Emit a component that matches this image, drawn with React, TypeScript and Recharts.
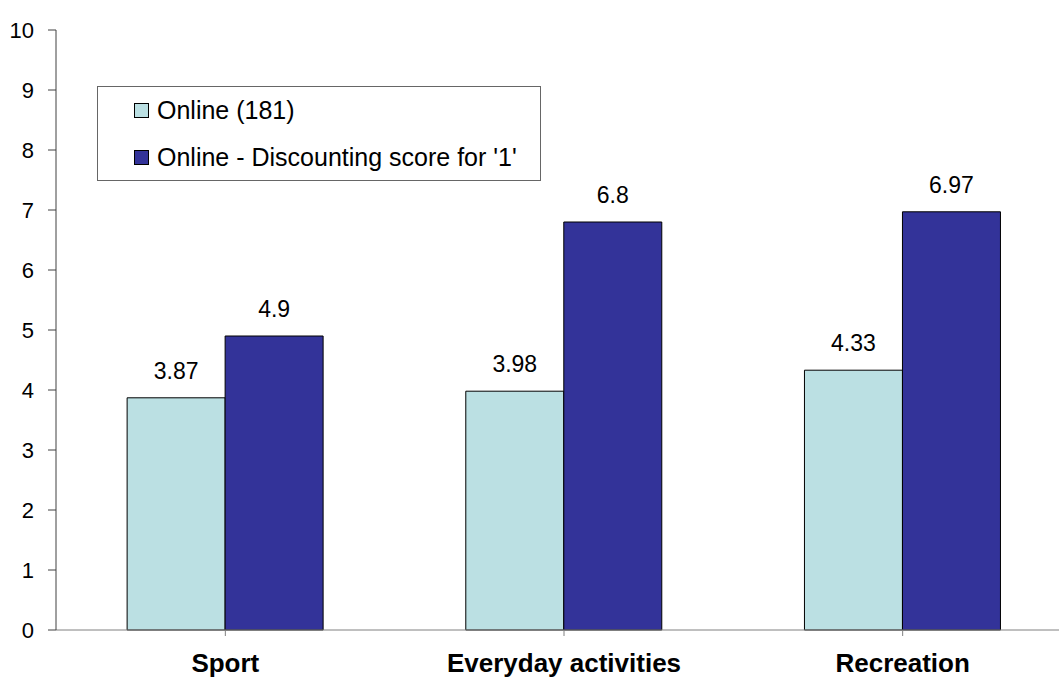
import React from "react";
import { BarChart, Bar, XAxis, YAxis, Legend, LabelList } from "recharts";

const categories = ["Sport", "Everyday activities", "Recreation"];
const onlineValues = [3.87, 3.98, 4.33];
const discountValues = [4.9, 6.8, 6.97];
const yTicks = [0, 1, 2, 3, 4, 5, 6, 7, 8, 9, 10];
const seriesNames = ["Online (181)", "Online - Discounting score for '1'"];
const seriesColors = ["#BBE0E3", "#333399"];

const data = categories.map((c, i) => ({
  name: c,
  online: onlineValues[i],
  discount: discountValues[i],
}));

const font = "Arial, 'Liberation Sans', Helvetica, sans-serif";

const LegendBox = () => (
  <div
    style={{
      border: "1px solid #666",
      background: "#fff",
      width: 444,
      height: 95,
      boxSizing: "border-box",
      padding: "0 0 0 36px",
      fontFamily: font,
      fontSize: 25,
      color: "#000",
    }}
  >
    {seriesNames.map((n, i) => (
      <div key={n} style={{ display: "flex", alignItems: "center", height: 47, lineHeight: "47px" }}>
        <span
          style={{
            display: "inline-block",
            width: 13,
            height: 13,
            background: seriesColors[i],
            border: "1px solid #000",
            marginRight: 8,
          }}
        />
        <span>{n}</span>
      </div>
    ))}
  </div>
);

export default function App() {
  return (
    <div style={{ position: "absolute", left: 0, top: 0, width: 1059, height: 678, overflow: "hidden", background: "#fff" }}>
      <BarChart
        width={1075}
        height={678}
        data={data}
        margin={{ top: 30, right: 3, bottom: 0, left: 0 }}
        barCategoryGap="21%"
        barGap={0}
      >
        <XAxis
          dataKey="name"
          height={48}
          stroke="#808080"
          tickLine={{ stroke: "#808080" }}
          tickSize={6}
          interval={0}
          tick={{ fill: "#000", fontSize: 26, fontWeight: "bold", fontFamily: font, dy: 16 }}
          padding={{ left: 0, right: 0 }}
        />
        <YAxis
          width={56}
          domain={[0, 10]}
          ticks={yTicks}
          interval={0}
          stroke="#404040"
          tickSize={8}
          tick={{ fill: "#000", fontSize: 22, fontFamily: font, dx: -12 }}
          allowDecimals={false}
        />
        <Legend
          layout="vertical"
          verticalAlign="middle"
          align="center"
          wrapperStyle={{ position: "absolute", left: 97, top: 86, width: 444, height: 95 }}
          content={() => <LegendBox />}
        />
        <Bar dataKey="online" fill={seriesColors[0]} stroke="#000" strokeWidth={1} isAnimationActive={false}>
          <LabelList dataKey="online" position="top" offset={19} style={{ fill: "#000", fontSize: 23, fontFamily: font }} />
        </Bar>
        <Bar dataKey="discount" fill={seriesColors[1]} stroke="#000" strokeWidth={1} isAnimationActive={false}>
          <LabelList dataKey="discount" position="top" offset={19} style={{ fill: "#000", fontSize: 23, fontFamily: font }} />
        </Bar>
      </BarChart>
    </div>
  );
}
